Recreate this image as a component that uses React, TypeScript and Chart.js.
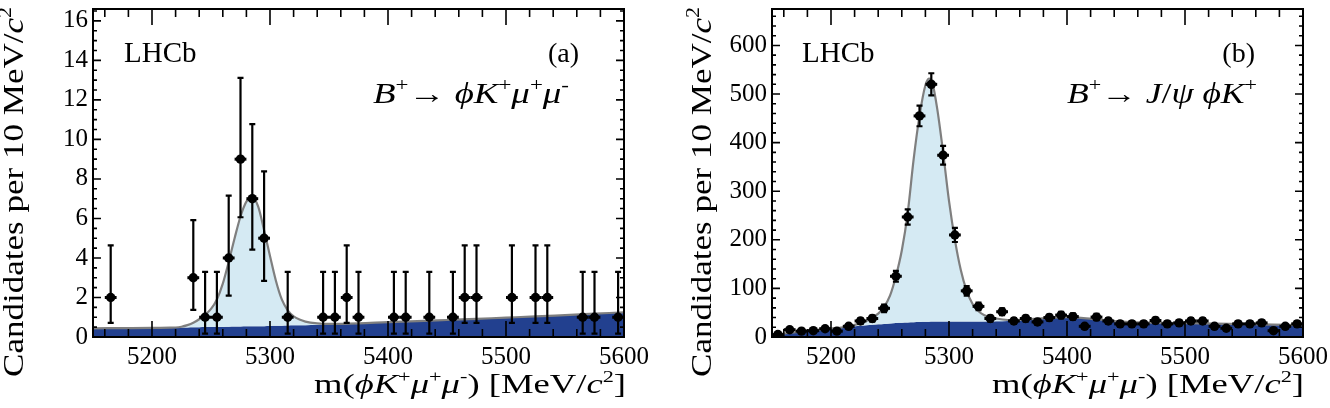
import React, { useEffect, useRef } from 'react';
import { Chart, registerables } from 'chart.js';
Chart.register(...registerables);

const FONT = "'Liberation Serif', 'Times New Roman', Times, serif";

// ---------- shared ----------
const xTicks = [5200, 5300, 5400, 5500, 5600];
const binHalfWidth = 5;

// ---------- panel (a): B+ -> phi K+ mu+ mu- ----------
const massA = [5165, 5235, 5245, 5255, 5265, 5275, 5285, 5295, 5315, 5345, 5355, 5365, 5375, 5405, 5415, 5435, 5455, 5465, 5475, 5505, 5525, 5535, 5565, 5575, 5595];
const countsA = [2, 3, 1, 1, 4, 9, 7, 5, 1, 1, 1, 2, 1, 1, 1, 1, 1, 2, 2, 2, 2, 2, 1, 1, 1];
const errLowA = [1.29, 1.63, 0.83, 0.83, 1.91, 2.94, 2.58, 2.16, 0.83, 0.83, 0.83, 1.29, 0.83, 0.83, 0.83, 0.83, 0.83, 1.29, 1.29, 1.29, 1.29, 1.29, 0.83, 0.83, 0.83];
const errHighA = [2.64, 2.92, 2.3, 2.3, 3.16, 4.11, 3.77, 3.38, 2.3, 2.3, 2.3, 2.64, 2.3, 2.3, 2.3, 2.3, 2.3, 2.64, 2.64, 2.64, 2.64, 2.64, 2.3, 2.3, 2.3];
const curveMassA = [5150, 5175, 5200, 5215, 5220, 5225, 5230, 5235, 5240, 5245, 5250, 5255, 5260, 5265, 5270, 5275, 5280, 5285, 5290, 5295, 5300, 5305, 5310, 5315, 5320, 5325, 5330, 5340, 5350, 5375, 5400, 5425, 5450, 5475, 5500, 5525, 5550, 5575, 5600];
const bkgA = [0.44, 0.45, 0.46, 0.47, 0.47, 0.48, 0.48, 0.49, 0.49, 0.5, 0.5, 0.51, 0.51, 0.52, 0.53, 0.53, 0.54, 0.54, 0.55, 0.55, 0.56, 0.57, 0.57, 0.58, 0.59, 0.59, 0.6, 0.62, 0.64, 0.69, 0.75, 0.8, 0.86, 0.92, 0.98, 1.04, 1.11, 1.18, 1.25];
const totalA = [0.44, 0.45, 0.46, 0.47, 0.48, 0.52, 0.6, 0.72, 0.9, 1.12, 1.42, 1.9, 2.7, 3.8, 5.0, 6.1, 6.85, 7.05, 6.6, 5.4, 4.1, 2.85, 1.9, 1.35, 1.05, 0.88, 0.78, 0.69, 0.66, 0.69, 0.75, 0.8, 0.86, 0.92, 0.98, 1.04, 1.11, 1.18, 1.25];
const yTicksA = [0, 2, 4, 6, 8, 10, 12, 14, 16];

// ---------- panel (b): B+ -> J/psi phi K+ ----------
const massB = [5155, 5165, 5175, 5185, 5195, 5205, 5215, 5225, 5235, 5245, 5255, 5265, 5275, 5285, 5295, 5305, 5315, 5325, 5335, 5345, 5355, 5365, 5375, 5385, 5395, 5405, 5415, 5425, 5435, 5445, 5455, 5465, 5475, 5485, 5495, 5505, 5515, 5525, 5535, 5545, 5555, 5565, 5575, 5585, 5595];
const countsB = [5, 15, 12, 13, 17, 12, 22, 33, 38, 59, 125, 247, 455, 520, 374, 210, 95, 63, 38, 52, 33, 38, 31, 40, 45, 42, 22, 41, 33, 27, 27, 27, 34, 27, 29, 33, 33, 22, 18, 27, 27, 29, 13, 22, 27];
const errB = [2.2, 3.9, 3.5, 3.6, 4.1, 3.5, 4.7, 5.7, 6.2, 7.7, 11.2, 15.7, 21.3, 22.8, 19.3, 14.5, 9.7, 7.9, 6.2, 7.2, 5.7, 6.2, 5.6, 6.3, 6.7, 6.5, 4.7, 6.4, 5.7, 5.2, 5.2, 5.2, 5.8, 5.2, 5.4, 5.7, 5.7, 4.7, 4.2, 5.2, 5.2, 5.4, 3.6, 4.7, 5.2];
const curveMassB = [5150, 5160, 5175, 5190, 5200, 5210, 5220, 5230, 5240, 5245, 5250, 5255, 5260, 5265, 5270, 5275, 5280, 5283, 5286, 5290, 5295, 5300, 5305, 5310, 5315, 5320, 5325, 5330, 5340, 5350, 5360, 5375, 5390, 5400, 5410, 5425, 5450, 5475, 5500, 5525, 5550, 5575, 5600];
const bkgB = [3, 7, 11, 15, 17, 19, 22, 24, 26, 27, 28, 29, 29.5, 30, 30.5, 31, 31.5, 31.5, 32, 32, 32, 32, 32, 32, 32, 32, 32, 32, 32.5, 33, 34, 37, 39, 40, 39.5, 36, 30.8, 29, 28, 27, 26, 25, 24];
const totalB = [3, 7, 11, 15, 17.5, 20, 25, 33, 48, 62, 85, 125, 178, 255, 365, 455, 518, 532, 522, 470, 380, 280, 200, 138, 95, 68, 53, 45, 38, 35, 35.5, 38, 40, 41, 40, 36.5, 31.2, 29.4, 28.4, 27.4, 26.4, 25.4, 24.4];
const yTicksB = [0, 100, 200, 300, 400, 500, 600];

type Seg = { t: string; it?: boolean; sup?: boolean };

const xTitleSegs: Seg[] = [
  { t: 'm(' }, { t: 'ϕ', it: true }, { t: 'K', it: true }, { t: '+', sup: true },
  { t: 'μ', it: true }, { t: '+', sup: true }, { t: 'μ', it: true }, { t: '-', sup: true },
  { t: ') [MeV/' }, { t: 'c', it: true }, { t: '2', sup: true }, { t: ']' },
];
const yTitleSegs: Seg[] = [{ t: 'Candidates per 10 MeV/' }, { t: 'c', it: true }, { t: '2', sup: true }];
const formulaASegs: Seg[] = [
  { t: 'B', it: true }, { t: '+', sup: true }, { t: '→ ' }, { t: 'ϕ', it: true }, { t: 'K', it: true },
  { t: '+', sup: true }, { t: 'μ', it: true }, { t: '+', sup: true }, { t: 'μ', it: true }, { t: '-', sup: true },
];
const formulaBSegs: Seg[] = [
  { t: 'B', it: true }, { t: '+', sup: true }, { t: '→ ' }, { t: 'J', it: true }, { t: '/' },
  { t: 'ψ', it: true }, { t: ' ' }, { t: 'ϕ', it: true }, { t: 'K', it: true }, { t: '+', sup: true },
];

const DARK = '#22408f';
const LIGHT = '#d5eaf3';
const LINE = '#7f7f7f';

function drawRich(ctx: CanvasRenderingContext2D, segs: Seg[], x: number, y: number, size: number,
  align: 'left' | 'right' | 'center', targetWidth?: number) {
  const fontOf = (s: Seg) => `${s.it ? 'italic ' : ''}${s.sup ? Math.round(size * 0.62) : size}px ${FONT}`;
  let W = 0;
  const widths = segs.map((s) => { ctx.font = fontOf(s); const w = ctx.measureText(s.t).width; W += w; return w; });
  const k = targetWidth ? targetWidth / W : 1;
  const sx = align === 'left' ? x : align === 'right' ? x - W * k : x - (W * k) / 2;
  ctx.save();
  ctx.translate(sx, y);
  ctx.scale(k, 1);
  ctx.fillStyle = '#000';
  ctx.textAlign = 'left';
  ctx.textBaseline = 'alphabetic';
  let cx = 0;
  segs.forEach((s, i) => {
    ctx.font = fontOf(s);
    ctx.fillText(s.t, cx, s.sup ? -size * 0.4 : 0);
    cx += widths[i];
  });
  ctx.restore();
}

type Spec = {
  mass: number[]; counts: number[]; errLow: number[]; errHigh: number[];
  curveMass: number[]; bkg: number[]; total: number[];
  yMax: number; yTicks: number[]; yMajor: number; yMinor: number;
  yAxisWidth: number; rightPad: number; yTitleX: number;
  tag: string; tagRight: number; lhcbLeft: number;
  formula: Seg[]; formulaLeft: number; formulaWidth: number;
  xTitleRight: number;
};

function makeConfig(sp: Spec): any {
  const decor = {
    id: 'decor',
    beforeDatasetDraw(chart: any, args: any) {
      if (args.index !== 2) return;
      const { ctx, chartArea } = chart;
      const xs = chart.scales.x, ys = chart.scales.y;
      ctx.save();
      ctx.beginPath();
      ctx.rect(chartArea.left, chartArea.top, chartArea.right - chartArea.left, chartArea.bottom - chartArea.top);
      ctx.clip();
      ctx.strokeStyle = '#000';
      sp.mass.forEach((m, i) => {
        const px = xs.getPixelForValue(m);
        const py = ys.getPixelForValue(sp.counts[i]);
        const top = ys.getPixelForValue(sp.counts[i] + sp.errHigh[i]);
        const bot = ys.getPixelForValue(sp.counts[i] - sp.errLow[i]);
        ctx.lineWidth = 2.2;
        ctx.beginPath();
        ctx.moveTo(px, top); ctx.lineTo(px, bot);
        ctx.moveTo(px - 3, top); ctx.lineTo(px + 3, top);
        ctx.moveTo(px - 3, bot); ctx.lineTo(px + 3, bot);
        ctx.stroke();
        ctx.lineWidth = 3;
        ctx.beginPath();
        ctx.moveTo(xs.getPixelForValue(m - binHalfWidth), py);
        ctx.lineTo(xs.getPixelForValue(m + binHalfWidth), py);
        ctx.stroke();
      });
      ctx.restore();
    },
    afterDatasetsDraw(chart: any) {
      const { ctx, chartArea } = chart;
      const { left, right, top, bottom } = chartArea;
      const xs = chart.scales.x, ys = chart.scales.y;
      ctx.save();
      ctx.strokeStyle = '#000';
      ctx.lineWidth = 1.6;
      ctx.beginPath();
      for (let v = 5160; v <= 5600; v += 20) {
        const px = xs.getPixelForValue(v);
        const len = v % 100 === 0 ? 16 : 8;
        ctx.moveTo(px, bottom); ctx.lineTo(px, bottom - len);
        ctx.moveTo(px, top); ctx.lineTo(px, top + len);
      }
      for (let v = 0; v <= sp.yMax + 1e-9; v += sp.yMinor) {
        const py = ys.getPixelForValue(v);
        const isMajor = Math.abs(v / sp.yMajor - Math.round(v / sp.yMajor)) < 1e-6;
        const len = isMajor ? 8 : 4;
        ctx.moveTo(left, py); ctx.lineTo(left + len, py);
        ctx.moveTo(right, py); ctx.lineTo(right - len, py);
      }
      ctx.stroke();
      ctx.lineWidth = 2;
      ctx.strokeRect(left, top, right - left, bottom - top);
      ctx.restore();
    },
    afterDraw(chart: any) {
      const { ctx } = chart;
      ctx.save();
      // x title
      drawRich(ctx, xTitleSegs, sp.xTitleRight, 393, 28, 'right', 312);
      // y title
      ctx.save();
      ctx.translate(sp.yTitleX, 192);
      ctx.rotate(-Math.PI / 2);
      drawRich(ctx, yTitleSegs, 0, 0, 29, 'center', 370);
      ctx.restore();
      // annotations
      ctx.fillStyle = '#000';
      ctx.font = `29px ${FONT}`;
      ctx.textAlign = 'left';
      ctx.textBaseline = 'alphabetic';
      ctx.fillText('LHCb', sp.lhcbLeft, 62);
      ctx.font = `28px ${FONT}`;
      ctx.textAlign = 'right';
      ctx.fillText(sp.tag, sp.tagRight, 62);
      drawRich(ctx, sp.formula, sp.formulaLeft, 103, 29, 'left', sp.formulaWidth);
      ctx.restore();
    },
  };

  return {
    type: 'line',
    data: {
      datasets: [
        {
          label: 'background',
          data: sp.curveMass.map((x, i) => ({ x, y: sp.bkg[i] })),
          borderWidth: 0, borderColor: DARK, backgroundColor: DARK,
          pointRadius: 0, fill: 'origin', cubicInterpolationMode: 'monotone', order: 3,
        },
        {
          label: 'total fit',
          data: sp.curveMass.map((x, i) => ({ x, y: sp.total[i] })),
          borderWidth: 2.2, borderColor: LINE, backgroundColor: LIGHT,
          pointRadius: 0, fill: { target: 0 }, cubicInterpolationMode: 'monotone', order: 2,
        },
        {
          label: 'data',
          data: sp.mass.map((x, i) => ({ x, y: sp.counts[i] })),
          showLine: false, pointRadius: 4.7, pointHoverRadius: 4.7,
          backgroundColor: '#000', borderColor: '#000', borderWidth: 0, order: 1,
        },
      ],
    },
    options: {
      animation: false,
      responsive: false,
      maintainAspectRatio: false,
      devicePixelRatio: 1,
      events: [],
      layout: { padding: { left: 0, right: sp.rightPad, top: 9, bottom: 0 } },
      plugins: { legend: { display: false }, tooltip: { enabled: false } },
      scales: {
        x: {
          type: 'linear', min: 5150, max: 5600,
          grid: { display: false, drawTicks: false }, border: { display: false },
          afterBuildTicks: (s: any) => { s.ticks = xTicks.map((v) => ({ value: v })); },
          afterFit: (s: any) => { s.height = 71; s.paddingLeft = 0; s.paddingRight = 0; },
          ticks: {
            color: '#000', font: { family: FONT, size: 25 }, padding: 5,
            maxRotation: 0, autoSkip: false, callback: (v: any) => String(v),
          },
        },
        y: {
          type: 'linear', min: 0, max: sp.yMax,
          grid: { display: false, drawTicks: false }, border: { display: false },
          afterBuildTicks: (s: any) => { s.ticks = sp.yTicks.map((v) => ({ value: v })); },
          afterFit: (s: any) => { s.width = sp.yAxisWidth; s.paddingTop = 0; s.paddingBottom = 0; },
          ticks: {
            color: '#000', font: { family: FONT, size: 25 }, padding: 5,
            autoSkip: false, callback: (v: any) => String(v),
          },
        },
      },
    },
    plugins: [decor],
  };
}

const specA: Spec = {
  mass: massA, counts: countsA, errLow: errLowA, errHigh: errHighA,
  curveMass: curveMassA, bkg: bkgA, total: totalA,
  yMax: 16.6, yTicks: yTicksA, yMajor: 2, yMinor: 0.5,
  yAxisWidth: 93, rightPad: 41, yTitleX: 23,
  tag: '(a)', tagRight: 579, lhcbLeft: 124,
  formula: formulaASegs, formulaLeft: 373, formulaWidth: 196,
  xTitleRight: 626,
};

const specB: Spec = {
  mass: massB, counts: countsB, errLow: errB, errHigh: errB,
  curveMass: curveMassB, bkg: bkgB, total: totalB,
  yMax: 675, yTicks: yTicksB, yMajor: 100, yMinor: 20,
  yAxisWidth: 107, rightPad: 27, yTitleX: 46,
  tag: '(b)', tagRight: 590, lhcbLeft: 137,
  formula: formulaBSegs, formulaLeft: 402, formulaWidth: 190,
  xTitleRight: 639,
};

function Panel({ spec, left }: { spec: Spec; left: number }) {
  const ref = useRef<HTMLCanvasElement>(null);
  useEffect(() => {
    const chart = new Chart(ref.current as HTMLCanvasElement, makeConfig(spec));
    return () => chart.destroy();
  }, [spec]);
  return (
    <canvas
      ref={ref}
      width={665}
      height={408}
      style={{ position: 'absolute', left, top: 0, width: 665, height: 408, display: 'block' }}
    />
  );
}

export default function App() {
  return (
    <div style={{ position: 'fixed', left: 0, top: 0, width: 1330, height: 408, background: '#fff', overflow: 'hidden' }}>
      <Panel spec={specA} left={0} />
      <Panel spec={specB} left={665} />
    </div>
  );
}
